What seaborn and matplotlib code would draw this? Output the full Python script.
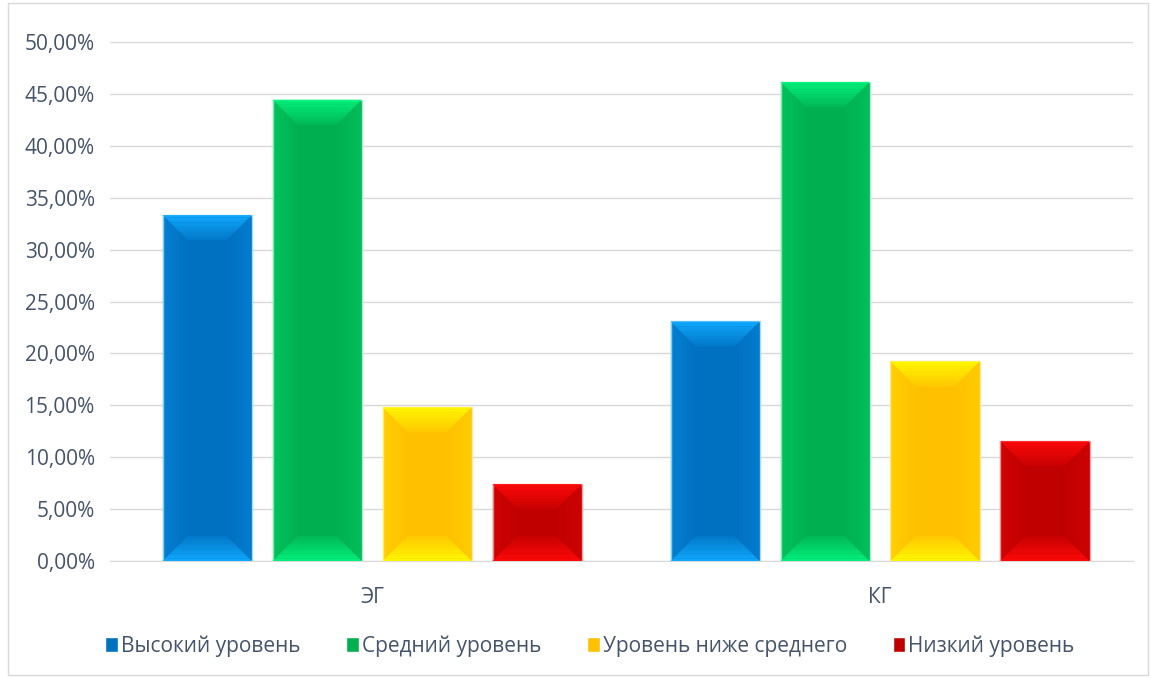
import pandas as pd
import seaborn as sns
import matplotlib.pyplot as plt
from matplotlib.patches import Polygon, Rectangle
from matplotlib.ticker import FuncFormatter

# data
groups = ['ЭГ', 'КГ']
levels = ['Высокий уровень', 'Средний уровень', 'Уровень ниже среднего', 'Низкий уровень']
eg_values = [33.33, 44.44, 14.81, 7.41]
kg_values = [23.08, 46.15, 19.23, 11.54]

colors = ['#0070C0', '#00B050', '#FFC000', '#C00000']
bevel_colors = ['#10AAFF', '#00F27E', '#FFFA00', '#FF0A0A']
edge_colors = ['#A9D8F8', '#A8EBC6', '#FFE7A0', '#F0A0A0']

df = pd.DataFrame({
    'group': [g for g in groups for _ in levels],
    'level': levels * 2,
    'value': eg_values + kg_values,
})

sns.set_style('white')
plt.rcParams['font.family'] = ['Open Sans', 'DejaVu Sans']
text_color = '#44546A'

fig = plt.figure(figsize=(11.51, 6.78), dpi=100)
ax = fig.add_axes([110 / 1151, 117 / 678, 1023 / 1151, 519 / 678])

sns.barplot(data=df, x='group', y='value', hue='level', hue_order=levels,
            palette=colors, saturation=1, width=0.866, gap=0.19, ax=ax, legend=True)


def gradient_band(outer, inner, color, n=10, a0=0.95, a1=0.1):
    # outer/inner: two points each (edge of bar -> inner edge of bevel)
    (p0, p1), (q0, q1) = outer, inner
    for k in range(n):
        t0, t1 = k / n, (k + 1) / n
        pts = [
            (p0[0] + (q0[0] - p0[0]) * t0, p0[1] + (q0[1] - p0[1]) * t0),
            (p1[0] + (q1[0] - p1[0]) * t0, p1[1] + (q1[1] - p1[1]) * t0),
            (p1[0] + (q1[0] - p1[0]) * t1, p1[1] + (q1[1] - p1[1]) * t1),
            (p0[0] + (q0[0] - p0[0]) * t1, p0[1] + (q0[1] - p0[1]) * t1),
        ]
        a = a0 + (a1 - a0) * t0
        ax.add_patch(Polygon(pts, closed=True, facecolor=color, edgecolor='none',
                             alpha=a, zorder=3))


# bevel-like shading on each bar
for idx, cont in enumerate(ax.containers):
    for patch in cont:
        x0, y0 = patch.get_x(), patch.get_y()
        w, h = patch.get_width(), patch.get_height()
        if h <= 0:
            continue
        patch.set_edgecolor(edge_colors[idx])
        patch.set_linewidth(1)
        b = min(2.4, h / 2)
        dx = w * 0.28
        # top
        gradient_band(((x0, y0 + h), (x0 + w, y0 + h)),
                      ((x0 + dx, y0 + h - b), (x0 + w - dx, y0 + h - b)), bevel_colors[idx])
        # bottom
        gradient_band(((x0, y0), (x0 + w, y0)),
                      ((x0 + dx, y0 + b), (x0 + w - dx, y0 + b)), bevel_colors[idx])
        # sides, faint
        gradient_band(((x0, y0), (x0, y0 + h)),
                      ((x0 + dx, y0 + b), (x0 + dx, y0 + h - b)), bevel_colors[idx],
                      n=6, a0=0.25, a1=0.0)
        gradient_band(((x0 + w, y0), (x0 + w, y0 + h)),
                      ((x0 + w - dx, y0 + b), (x0 + w - dx, y0 + h - b)), bevel_colors[idx],
                      n=6, a0=0.2, a1=0.0)

ax.set_ylim(0, 50)
ax.set_xlim(-0.516, 1.498)
ax.set_yticks(range(0, 51, 5))
ax.yaxis.set_major_formatter(FuncFormatter(lambda v, p: f'{v:.2f}'.replace('.', ',') + '%'))
ax.grid(axis='y', color='#D9D9D9', linewidth=1)
ax.set_axisbelow(True)
for s in ['top', 'right', 'left']:
    ax.spines[s].set_visible(False)
ax.spines['bottom'].set_color('#D9D9D9')
ax.tick_params(axis='both', length=0, labelsize=15, colors=text_color)
ax.tick_params(axis='y', pad=11)
ax.tick_params(axis='x', pad=19)
ax.set_xlabel('')
ax.set_ylabel('')

handles, labels = ax.get_legend_handles_labels()
ax.legend(handles, labels, loc='center', bbox_to_anchor=(590 / 1151, 32 / 678), bbox_transform=fig.transFigure,
          ncol=4, frameon=False, fontsize=15, labelcolor=text_color,
          handlelength=0.6, handleheight=0.8, handletextpad=0.15, columnspacing=2.2)

fig.patches.append(Rectangle((8 / 1151, 0.005), 1140 / 1151, 0.99, transform=fig.transFigure,
                             fill=False, edgecolor='#D9D9D9', linewidth=1))

fig.savefig('out.png', dpi=100)
